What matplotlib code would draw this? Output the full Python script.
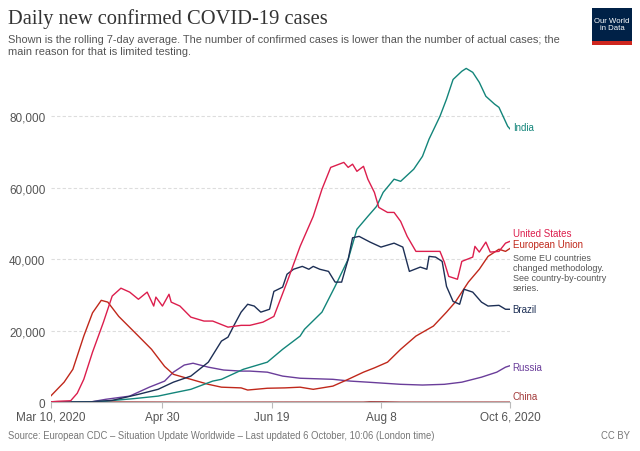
import matplotlib
matplotlib.use("Agg")
import matplotlib.pyplot as plt
from matplotlib.patches import Rectangle

# days after Mar 10, 2020 and 7-day averages
eu_days = [0, 6, 10, 15, 19, 23, 26, 31, 40, 46, 52, 56, 64, 72, 78, 87, 90, 99, 107, 114, 120, 129, 136, 143, 148, 154, 160, 167, 175, 181, 185, 191, 196, 200, 205, 208, 210]
eu_vals = [1800, 5600, 9200, 18500, 25000, 28500, 28000, 24000, 18500, 14800, 10000, 7800, 6400, 5000, 4200, 4000, 3400, 3900, 4000, 4200, 3600, 4500, 6400, 8400, 9600, 11200, 14800, 18500, 21300, 25200, 28000, 33600, 37200, 40800, 42800, 42200, 43000]

us_days = [0, 3, 9, 12, 15, 19, 24, 28, 32, 36, 40, 44, 47, 48, 51, 54, 55, 59, 64, 70, 74, 81, 87, 91, 97, 102, 108, 114, 120, 124, 128, 134, 136, 138, 140, 143, 145, 148, 150, 154, 157, 160, 163, 167, 169, 178, 180, 182, 186, 188, 193, 194, 196, 199, 201, 205, 208, 210]
us_vals = [100, 250, 400, 2500, 6400, 14000, 22400, 29700, 31900, 30800, 28800, 30800, 26900, 29400, 26900, 30200, 28000, 26900, 23800, 22700, 22700, 21000, 21500, 21500, 22400, 24000, 33600, 43600, 52000, 59600, 65700, 67100, 65700, 66600, 64600, 66000, 62400, 58700, 54500, 53100, 53100, 50600, 46400, 42200, 42200, 42200, 39200, 35200, 34400, 39400, 40600, 43600, 42000, 44800, 42000, 42200, 44500, 45000]

india_days = [0, 18, 25, 38, 49, 56, 64, 74, 78, 88, 99, 106, 114, 116, 124, 130, 136, 140, 145, 149, 152, 157, 160, 166, 170, 173, 178, 181, 184, 188, 190, 193, 196, 199, 203, 205, 209, 210]
india_vals = [0, 100, 300, 1000, 1700, 2600, 3600, 5900, 6400, 9200, 11200, 14800, 18500, 20400, 25200, 32400, 40000, 48400, 52000, 54800, 58700, 62400, 61800, 65200, 68800, 73600, 80000, 84800, 90300, 92600, 93400, 92300, 89500, 85600, 83400, 82500, 77200, 76500]

brazil_days = [0, 18, 28, 40, 49, 56, 64, 72, 78, 81, 84, 87, 90, 93, 96, 100, 102, 106, 108, 111, 115, 118, 120, 123, 127, 130, 133, 136, 138, 141, 146, 151, 157, 161, 164, 169, 172, 173, 176, 179, 181, 184, 187, 189, 193, 197, 200, 205, 208, 210]
brazil_vals = [0, 100, 500, 2200, 3600, 5600, 7300, 11200, 17100, 18200, 21800, 25200, 27400, 26900, 25200, 26000, 31000, 32200, 35800, 37200, 38000, 37200, 38000, 37200, 36600, 33600, 33600, 40000, 46000, 46400, 44800, 43400, 44500, 43400, 36600, 37800, 37200, 40800, 40600, 39400, 32400, 28200, 27400, 31600, 30800, 28000, 26900, 27100, 26000, 26000]

russia_days = [0, 18, 25, 36, 45, 52, 56, 61, 65, 72, 79, 87, 91, 99, 106, 114, 129, 137, 145, 160, 170, 180, 188, 197, 204, 208, 210]
russia_vals = [0, 50, 800, 1700, 4200, 5900, 8400, 10400, 10900, 9800, 9000, 8700, 8700, 8400, 7300, 6700, 6400, 5900, 5600, 5000, 4800, 5000, 5600, 7000, 8400, 9800, 10200]

china_days = [0, 30, 60, 120, 143, 146, 152, 160, 210]
china_vals = [20, 60, 10, 30, 30, 120, 100, 20, 20]

tick_days = [0, 51, 101, 151, 210]
tick_labels = ["Mar 10, 2020", "Apr 30", "Jun 19", "Aug 8", "Oct 6, 2020"]

plt.rcParams['font.family'] = ['Liberation Sans', 'DejaVu Sans']

fig = plt.figure(figsize=(6.4, 4.52), dpi=100)
ax = fig.add_axes([0.0797, 0.108, 0.717, 0.759])

series = [
    (china_days, china_vals, "#a33a3a"),
    (russia_days, russia_vals, "#6a3d9a"),
    (eu_days, eu_vals, "#c0281b"),
    (india_days, india_vals, "#13857a"),
    (brazil_days, brazil_vals, "#1d2f55"),
    (us_days, us_vals, "#dc1e4d"),
]
for d, v, c in series:
    ax.plot(d, v, color=c, lw=1.0)

ax.set_xlim(0, 210)
ax.set_ylim(0, 96000)
ax.set_yticks([0, 20000, 40000, 60000, 80000])
ax.set_yticklabels(["0", "20,000", "40,000", "60,000", "80,000"])
ax.set_xticks(tick_days)
ax.set_xticklabels(tick_labels)
ax.tick_params(axis='y', length=0, labelsize=8.5, colors="#555555", pad=4)
ax.tick_params(axis='x', length=4, color="#bbbbbb", labelsize=8.5, labelcolor="#555555", pad=2)
ax.grid(axis='y', color="#dddddd", ls=(0, (3, 2)), lw=0.8)
ax.set_axisbelow(True)
for s in ["top", "right", "left"]:
    ax.spines[s].set_visible(False)
ax.spines["bottom"].set_color("#bbbbbb")

# end labels
lab_x = 211.3
def lab(y, t, c):
    ax.text(lab_x, y, t, color=c, fontsize=7, va='center', ha='left', clip_on=False)
lab(77000, "India", "#13857a")
lab(47300, "United States", "#dc1e4d")
lab(44200, "European Union", "#c0281b")
ax.text(lab_x, 41700, "Some EU countries\nchanged methodology.\nSee country-by-country\nseries.",
        color="#555555", fontsize=6.5, va='top', ha='left', linespacing=1.15)
lab(26000, "Brazil", "#1d2f55")
lab(9800, "Russia", "#6a3d9a")
lab(1600, "China", "#a33a3a")

# header
fig.text(0.013, 0.958, "Daily new confirmed COVID-19 cases", family="Liberation Serif",
         fontsize=14.8, color="#333333", va='center')
fig.text(0.013, 0.912, "Shown is the rolling 7-day average. The number of confirmed cases is lower than the number of actual cases; the",
         fontsize=7.9, color="#555555", va='center')
fig.text(0.013, 0.884, "main reason for that is limited testing.", fontsize=7.9, color="#555555", va='center')

# logo
fig.patches.append(Rectangle((0.925, 0.898), 0.063, 0.081, transform=fig.transFigure,
                             facecolor="#002147", edgecolor="none"))
fig.patches.append(Rectangle((0.925, 0.898), 0.063, 0.008, transform=fig.transFigure,
                             facecolor="#ce261e", edgecolor="none"))
fig.text(0.9565, 0.944, "Our World\nin Data", color="white", fontsize=5.6, ha='center', va='center',
         linespacing=0.95)

# footer
fig.text(0.013, 0.035, "Source: European CDC – Situation Update Worldwide – Last updated 6 October, 10:06 (London time)",
         fontsize=6.85, color="#777777", va='center')
fig.text(0.985, 0.035, "CC BY", fontsize=6.85, color="#777777", va='center', ha='right')

fig.savefig("out.png", dpi=100)
